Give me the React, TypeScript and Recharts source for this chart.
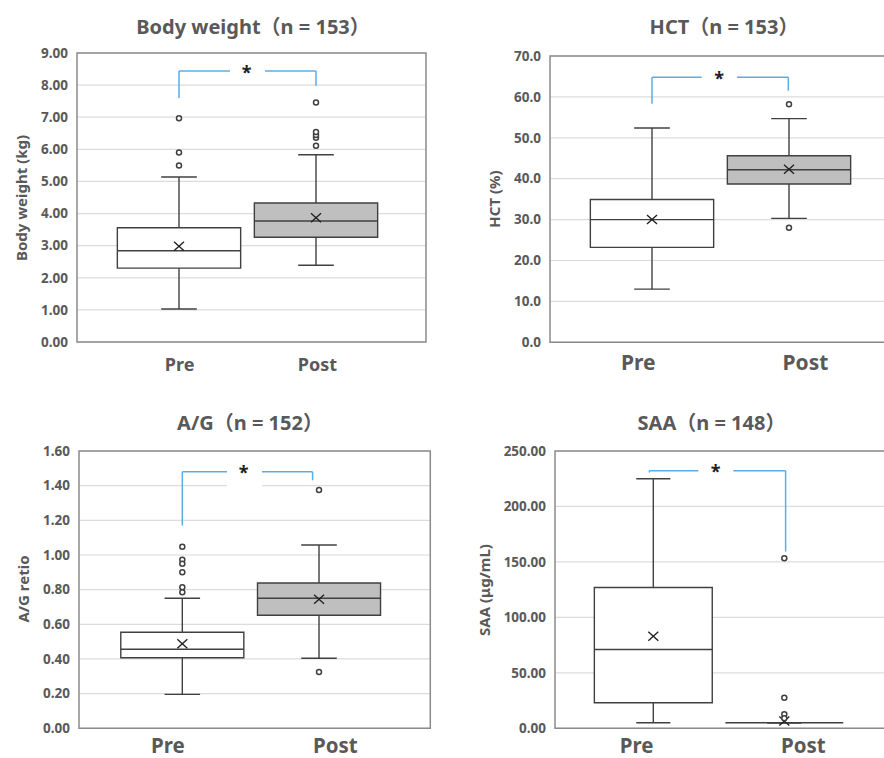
import React from 'react';
import {
  ComposedChart,
  XAxis,
  YAxis,
  CartesianGrid,
  Scatter,
  ReferenceLine,
  ReferenceArea,
} from 'recharts';

// ---------- data ----------
const categories = ['Pre', 'Post'];

const bodyMin = [1.03, 2.39];
const bodyQ1 = [2.3, 3.26];
const bodyMedian = [2.84, 3.77];
const bodyQ3 = [3.56, 4.33];
const bodyMax = [5.14, 5.83];
const bodyMean = [2.98, 3.87];
const bodyOutliers = [
  [5.5, 5.9, 6.97],
  [6.11, 6.36, 6.45, 6.54, 7.46],
];
const bodyTicks = [0, 1, 2, 3, 4, 5, 6, 7, 8, 9];

const hctMin = [13.0, 30.3];
const hctQ1 = [23.2, 38.7];
const hctMedian = [30.0, 42.2];
const hctQ3 = [34.9, 45.6];
const hctMax = [52.4, 54.7];
const hctMean = [30.0, 42.3];
const hctOutliers = [[], [58.2, 28.0]];
const hctTicks = [0, 10, 20, 30, 40, 50, 60, 70];

const agMin = [0.196, 0.404];
const agQ1 = [0.407, 0.652];
const agMedian = [0.456, 0.75];
const agQ3 = [0.554, 0.838];
const agMax = [0.75, 1.058];
const agMean = [0.488, 0.744];
const agOutliers = [
  [1.048, 0.973, 0.95, 0.9, 0.814, 0.785],
  [1.375, 0.325],
];
const agTicks = [0, 0.2, 0.4, 0.6, 0.8, 1.0, 1.2, 1.4, 1.6];

const saaMin = [5.0, 5.0];
const saaQ1 = [23.0, 5.0];
const saaMedian = [71.0, 5.0];
const saaQ3 = [127.0, 5.0];
const saaMax = [225.0, 5.0];
const saaMean = [83.0, 6.6];
const saaOutliers = [[], [153.3, 27.6, 12.6, 9.0]];
const saaTicks = [0, 50, 100, 150, 200, 250];

// ---------- styles ----------
const GRAY_TEXT = '#595959';
const LINE = '#404040';
const BLUE = '#5aaee6';
const FONT = "'Noto Sans', 'Noto Sans CJK JP', sans-serif";
const HALF_BOX = 0.45;
const HALF_CAP = 0.13;
const Y_AXIS_W = 60;
const M_TOP = 10;
const M_RIGHT = 10;
const X_AXIS_H = 40;

type Bracket = {
  xl: number;
  xr: number;
  yl: number;
  yt: number;
  yr: number;
  g1: number;
  g2: number;
  sx: number;
  sy: number;
};

type PanelCfg = {
  title: string;
  titleCx: number;
  titleCy: number;
  yTitle: string;
  yTitleCx: number;
  yTitleCy: number;
  L: number;
  T: number;
  W: number;
  H: number;
  xDomain: [number, number];
  labelX: number[];
  labelFont: number;
  labelMargin: number;
  yTicks: number[];
  decimals: number;
  min: number[];
  q1: number[];
  median: number[];
  q3: number[];
  max: number[];
  mean: number[];
  outliers: number[][];
  bracket: Bracket;
  patch?: { x1: number; x2: number; y1: number; y2: number };
};

const panels: PanelCfg[] = [
  {
    title: 'Body weight（n = 153）',
    titleCx: 253,
    titleCy: 27,
    yTitle: 'Body weight (kg)',
    yTitleCx: 21,
    yTitleCy: 198,
    L: 77,
    T: 53.3,
    W: 349,
    H: 289,
    xDomain: [-0.7445, 1.8029],
    labelX: [0.005, 1.01],
    labelFont: 18,
    labelMargin: 16,
    yTicks: bodyTicks,
    decimals: 2,
    min: bodyMin,
    q1: bodyQ1,
    median: bodyMedian,
    q3: bodyQ3,
    max: bodyMax,
    mean: bodyMean,
    outliers: bodyOutliers,
    bracket: { xl: 0, xr: 1, yl: 7.6, yt: 8.44, yr: 7.98, g1: 0.372, g2: 0.628, sx: 0.494, sy: 8.48 },
  },
  {
    title: 'HCT（n = 153）',
    titleCx: 724,
    titleCy: 27,
    yTitle: 'HCT (%)',
    yTitleCx: 494,
    yTitleCy: 199,
    L: 550,
    T: 56,
    W: 349,
    H: 286.3,
    xDomain: [-0.7445, 1.8029],
    labelX: [-0.1, 1.12],
    labelFont: 21,
    labelMargin: 12.7,
    yTicks: hctTicks,
    decimals: 1,
    min: hctMin,
    q1: hctQ1,
    median: hctMedian,
    q3: hctQ3,
    max: hctMax,
    mean: hctMean,
    outliers: hctOutliers,
    bracket: { xl: 0, xr: 0.995, yl: 58.3, yt: 64.8, yr: 61.5, g1: 0.363, g2: 0.62, sx: 0.49, sy: 65.1 },
  },
  {
    title: 'A/G（n = 152）',
    titleCx: 250,
    titleCy: 423,
    yTitle: 'A/G retio',
    yTitleCx: 23,
    yTitleCy: 589,
    L: 78.7,
    T: 451,
    W: 351.3,
    H: 277.3,
    xDomain: [-0.7557, 1.814],
    labelX: [-0.105, 1.12],
    labelFont: 20.5,
    labelMargin: 10.5,
    yTicks: agTicks,
    decimals: 2,
    min: agMin,
    q1: agQ1,
    median: agMedian,
    q3: agQ3,
    max: agMax,
    mean: agMean,
    outliers: agOutliers,
    bracket: { xl: 0, xr: 0.953, yl: 1.17, yt: 1.48, yr: 1.431, g1: 0.327, g2: 0.583, sx: 0.448, sy: 1.49 },
    patch: { x1: 0.327, x2: 0.583, y1: 1.36, y2: 1.45 },
  },
  {
    title: 'SAA（n = 148）',
    titleCx: 711.5,
    titleCy: 423,
    yTitle: 'SAA (μg/mL)',
    yTitleCx: 484.3,
    yTitleCy: 590,
    L: 555,
    T: 451,
    W: 334,
    H: 277.3,
    xDomain: [-0.7504, 1.7992],
    labelX: [-0.127, 1.145],
    labelFont: 20.5,
    labelMargin: 10.5,
    yTicks: saaTicks,
    decimals: 2,
    min: saaMin,
    q1: saaQ1,
    median: saaMedian,
    q3: saaQ3,
    max: saaMax,
    mean: saaMean,
    outliers: saaOutliers,
    bracket: { xl: -0.03, xr: 1.01, yl: 230.6, yt: 232.3, yr: 159.3, g1: 0.344, g2: 0.611, sx: 0.476, sy: 233.8 },
  },
];

// ---------- shapes ----------
const MeanMark = (p: any) => {
  const { cx, cy } = p;
  if (cx == null || cy == null) return null;
  return (
    <g>
      <line x1={cx - 5} y1={cy - 4.5} x2={cx + 5} y2={cy + 4.5} stroke="#222" strokeWidth={1.4} />
      <line x1={cx - 5} y1={cy + 4.5} x2={cx + 5} y2={cy - 4.5} stroke="#222" strokeWidth={1.4} />
    </g>
  );
};

const OutlierMark = (p: any) => {
  const { cx, cy } = p;
  if (cx == null || cy == null) return null;
  return <circle cx={cx} cy={cy} r={2.5} fill="#fff" stroke={LINE} strokeWidth={1.5} />;
};

const StarMark = (p: any) => {
  const { cx, cy } = p;
  if (cx == null || cy == null) return null;
  return (
    <text
      x={cx}
      y={cy + 9}
      textAnchor="middle"
      fontSize={18}
      fontWeight={700}
      fontFamily={FONT}
      fill="#222"
    >
      *
    </text>
  );
};

function seg(key: string, x1: number, y1: number, x2: number, y2: number, stroke: string, w: number) {
  return (
    <ReferenceLine
      key={key}
      segment={[
        { x: x1, y: y1 },
        { x: x2, y: y2 },
      ]}
      stroke={stroke}
      strokeWidth={w}
      ifOverflow="visible"
    />
  );
}

function Panel({ cfg }: { cfg: PanelCfg }) {
  const yTop = cfg.yTicks[cfg.yTicks.length - 1];
  const meanData = categories.map((_, i) => ({ x: i, y: cfg.mean[i] }));
  const outlierData = categories.flatMap((_, i) => cfg.outliers[i].map((v) => ({ x: i, y: v })));
  const b = cfg.bracket;
  const starData = [{ x: b.sx, y: b.sy }];

  const tickStyle = { fill: GRAY_TEXT, fontSize: 13.5, fontWeight: 700, fontFamily: FONT };
  const xTickStyle = { fill: GRAY_TEXT, fontSize: cfg.labelFont, fontWeight: 700, fontFamily: FONT };

  return (
    <>
      <div
        style={{
          position: 'absolute',
          left: cfg.titleCx - 200,
          top: cfg.titleCy - 14,
          width: 400,
          height: 28,
          lineHeight: '28px',
          textAlign: 'center',
          fontFamily: FONT,
          fontSize: 20,
          fontWeight: 700,
          color: GRAY_TEXT,
          whiteSpace: 'nowrap',
        }}
      >
        {cfg.title}
      </div>
      <div
        style={{
          position: 'absolute',
          left: cfg.yTitleCx,
          top: cfg.yTitleCy,
          transform: 'translate(-50%, -50%) rotate(-90deg)',
          fontFamily: FONT,
          fontSize: 15,
          fontWeight: 700,
          color: GRAY_TEXT,
          whiteSpace: 'nowrap',
          lineHeight: '18px',
        }}
      >
        {cfg.yTitle}
      </div>
      <div style={{ position: 'absolute', left: cfg.L - Y_AXIS_W, top: cfg.T - M_TOP }}>
        <ComposedChart
          width={cfg.W + Y_AXIS_W + M_RIGHT}
          height={cfg.H + M_TOP + X_AXIS_H}
          margin={{ top: M_TOP, right: M_RIGHT, bottom: 0, left: 0 }}
        >
          <CartesianGrid horizontal vertical={false} stroke="#dcdcdc" strokeWidth={1.2} />
          <XAxis
            type="number"
            dataKey="x"
            domain={cfg.xDomain}
            allowDataOverflow
            ticks={cfg.labelX}
            interval={0}
            tickFormatter={(_v: any, i: number) => categories[i]}
            axisLine={false}
            tickLine={false}
            tickSize={0}
            tickMargin={cfg.labelMargin}
            height={X_AXIS_H}
            tick={xTickStyle}
          />
          <YAxis
            type="number"
            dataKey="y"
            domain={[0, yTop]}
            allowDataOverflow
            ticks={cfg.yTicks}
            interval={0}
            tickFormatter={(v: number) => v.toFixed(cfg.decimals)}
            axisLine={false}
            tickLine={false}
            tickSize={0}
            tickMargin={9}
            width={Y_AXIS_W}
            tick={tickStyle}
          />
          {cfg.patch && (
            <ReferenceArea
              x1={cfg.patch.x1}
              x2={cfg.patch.x2}
              y1={cfg.patch.y1}
              y2={cfg.patch.y2}
              fill="#ffffff"
              fillOpacity={1}
              stroke="none"
            />
          )}
          <ReferenceArea
            x1={cfg.xDomain[0]}
            x2={cfg.xDomain[1]}
            y1={0}
            y2={yTop}
            fill="none"
            fillOpacity={0}
            stroke="#8a8a8a"
            strokeWidth={1.5}
            ifOverflow="visible"
          />
          {categories.map((c, i) => (
            <ReferenceArea
              key={'box' + c}
              x1={i - HALF_BOX}
              x2={i + HALF_BOX}
              y1={cfg.q1[i]}
              y2={cfg.q3[i]}
              fill={i === 0 ? '#ffffff' : '#bfbfbf'}
              fillOpacity={1}
              stroke={LINE}
              strokeWidth={1.4}
              ifOverflow="visible"
            />
          ))}
          {categories.flatMap((c, i) => [
            seg('wl' + c, i, cfg.min[i], i, cfg.q1[i], LINE, 1.4),
            seg('wh' + c, i, cfg.q3[i], i, cfg.max[i], LINE, 1.4),
            seg('cl' + c, i - HALF_CAP, cfg.min[i], i + HALF_CAP, cfg.min[i], LINE, 1.4),
            seg('ch' + c, i - HALF_CAP, cfg.max[i], i + HALF_CAP, cfg.max[i], LINE, 1.4),
            seg('md' + c, i - HALF_BOX, cfg.median[i], i + HALF_BOX, cfg.median[i], LINE, 1.4),
          ])}
          {seg('bl', b.xl, b.yl, b.xl, b.yt, BLUE, 1.5)}
          {seg('bt1', b.xl, b.yt, b.g1, b.yt, BLUE, 1.5)}
          {seg('bt2', b.g2, b.yt, b.xr, b.yt, BLUE, 1.5)}
          {seg('br', b.xr, b.yt, b.xr, b.yr, BLUE, 1.5)}
          <Scatter data={meanData} shape={MeanMark} isAnimationActive={false} />
          <Scatter data={outlierData} shape={OutlierMark} isAnimationActive={false} />
          <Scatter data={starData} shape={StarMark} isAnimationActive={false} />
        </ComposedChart>
      </div>
    </>
  );
}

export default function App() {
  return (
    <div
      style={{
        position: 'absolute',
        left: 0,
        top: 0,
        width: 884,
        height: 758,
        overflow: 'hidden',
        background: '#ffffff',
      }}
    >
      {panels.map((p) => (
        <Panel key={p.title} cfg={p} />
      ))}
    </div>
  );
}
